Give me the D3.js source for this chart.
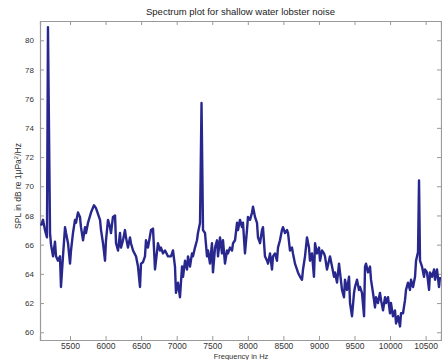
<!DOCTYPE html>
<html>
<head>
<meta charset="utf-8">
<script src="https://cdn.jsdelivr.net/npm/d3@7"></script>
<style>
  html, body { margin: 0; padding: 0; background: #fff; }
  svg { display: block; font-family: "Liberation Sans", Arial, Helvetica, sans-serif; }
</style>
</head>
<body>
<svg id="chart" width="442" height="360"></svg>
<script>
const titleText = "Spectrum plot for shallow water lobster noise";
const xLabelText = "Frequency in Hz";
const xTicks = [5500, 6000, 6500, 7000, 7500, 8000, 8500, 9000, 9500, 10000, 10500];
const yTicks = [60, 62, 64, 66, 68, 70, 72, 74, 76, 78, 80];

const freq = [5092,5120,5148,5176,5190,5219,5233,5261,5289,5303,5331,5359,5373,5401,5430,5444,5472,5500,5514,5542,
5570,5584,5612,5640,5654,5683,5711,5725,5753,5795,5837,5865,5922,5936,5964,5992,6006,6034,6062,6076,
6104,6133,6147,6175,6203,6217,6245,6273,6287,6315,6343,6357,6386,6428,6456,6484,6498,6526,6554,6568,
6596,6639,6667,6695,6709,6737,6765,6779,6807,6836,6878,6920,6948,6976,6990,7018,7046,7075,7089,7117,
7145,7159,7187,7215,7229,7257,7285,7299,7328,7349,7370,7398,7426,7440,7468,7496,7510,7539,7567,7581,
7609,7637,7651,7679,7707,7721,7749,7778,7792,7820,7848,7862,7890,7918,7932,7960,7988,8002,8031,8059,
8073,8101,8129,8143,8171,8199,8213,8241,8270,8284,8312,8340,8354,8382,8410,8424,8452,8480,8494,8523,
8551,8565,8593,8621,8635,8663,8691,8705,8734,8762,8776,8804,8832,8860,8874,8902,8930,8945,8973,9001,
9015,9043,9071,9085,9113,9141,9155,9184,9212,9226,9254,9282,9296,9324,9352,9366,9394,9423,9437,9465,
9493,9507,9535,9563,9577,9605,9634,9648,9662,9690,9718,9732,9760,9788,9802,9830,9858,9873,9901,9929,
9943,9971,9999,10013,10041,10069,10084,10112,10140,10154,10182,10210,10224,10252,10280,10295,10323,10351,10365,10393,
10407,10421,10449,10477,10491,10519,10548,10562,10590,10618,10632,10660,10688,10702];

const spl = [67.3,67.7,67.0,66.5,80.9,66.8,66.0,65.2,66.2,65.2,64.9,65.2,63.1,65.2,67.2,66.8,66.1,64.7,65.6,66.8,
67.7,67.5,68.2,67.9,67.2,66.3,67.2,66.8,67.5,68.2,68.7,68.5,67.7,67.0,66.1,64.9,66.3,67.7,67.2,66.8,
67.9,68.0,66.1,65.6,66.8,65.8,66.3,67.0,66.5,65.8,66.5,66.1,65.6,65.2,64.5,63.1,64.7,64.8,65.2,66.3,
65.8,67.0,67.1,64.3,64.9,66.1,65.6,65.8,65.4,65.6,65.2,65.2,65.6,64.5,62.7,63.4,62.4,64.5,63.8,64.9,
64.3,65.2,64.5,65.4,65.2,65.8,66.3,66.8,67.5,75.7,67.0,66.8,65.2,65.6,64.7,66.1,64.1,65.8,66.3,65.2,
66.5,65.4,66.3,64.7,65.6,65.4,65.8,65.6,66.1,66.3,67.5,67.0,67.7,67.2,67.5,65.4,67.0,67.9,67.7,68.2,
68.6,67.9,67.5,66.5,66.1,67.0,67.2,65.2,64.9,64.7,65.4,64.3,65.2,65.4,64.9,65.8,66.3,67.0,67.2,66.8,
67.0,66.8,65.6,65.8,65.4,64.7,64.3,64.1,63.8,63.6,64.3,65.2,66.5,65.8,64.9,65.4,63.8,66.1,65.4,65.8,
64.9,65.6,65.4,65.2,64.3,64.9,65.2,64.5,63.8,64.1,63.4,64.7,64.1,62.9,62.4,63.6,62.9,63.8,62.0,61.1,
62.7,63.1,63.6,62.9,63.1,62.7,61.1,64.5,64.7,64.1,64.5,63.6,62.7,61.7,62.4,62.0,62.7,62.2,61.5,62.4,
62.0,62.4,61.3,62.0,61.1,61.5,60.6,61.1,60.4,61.3,61.3,62.2,62.9,63.4,62.9,63.6,63.1,63.8,64.9,65.5,
70.4,64.9,64.5,63.8,64.3,64.1,62.9,64.1,63.8,64.3,63.6,64.3,63.1,63.8];

const svg = d3.select("#chart");
const L = 40, R = 441, T = 21, B = 340;

const x = d3.scaleLinear().domain([5078, 10716]).range([L, R]);
const y = d3.scaleLinear().domain([59.47, 81.32]).range([B, T]);

svg.append("rect").attr("x", 0).attr("y", 0).attr("width", 442).attr("height", 360).attr("fill", "#fff");

svg.append("defs").append("clipPath").attr("id", "clip")
  .append("rect").attr("x", L).attr("y", T).attr("width", R - L).attr("height", B - T);

const axisColor = "#9a9a9a";
const textColor = "#333";

const gx = svg.append("g").attr("transform", `translate(0,${B})`)
  .call(d3.axisBottom(x).tickValues(xTicks).tickSize(-4).tickPadding(3).tickFormat(d3.format("d")));
const gxt = svg.append("g").attr("transform", `translate(0,${T})`)
  .call(d3.axisTop(x).tickValues(xTicks).tickSize(-4).tickFormat(""));
const gy = svg.append("g").attr("transform", `translate(${L},0)`)
  .call(d3.axisLeft(y).tickValues(yTicks).tickSize(-4).tickPadding(6).tickFormat(d3.format("d")));
const gyr = svg.append("g").attr("transform", `translate(${R},0)`)
  .call(d3.axisRight(y).tickValues(yTicks).tickSize(-4).tickFormat(""));

[gx, gxt, gy, gyr].forEach(g => {
  g.select(".domain").attr("stroke", axisColor).attr("stroke-width", 1.2);
  g.selectAll(".tick line").attr("stroke", axisColor);
  g.selectAll(".tick text").attr("fill", textColor).attr("font-family", "'Liberation Sans', Arial, sans-serif");
});
gx.selectAll(".tick text").attr("font-size", 8.5);
gy.selectAll(".tick text").attr("font-size", 8);

const data = freq.map((f, i) => [f, spl[i]]);
const line = d3.line().x(d => x(d[0])).y(d => y(d[1]));
svg.append("path")
  .datum(data)
  .attr("clip-path", "url(#clip)")
  .attr("fill", "none")
  .attr("stroke", "#27278e")
  .attr("stroke-width", 2.4)
  .attr("stroke-linejoin", "round")
  .attr("d", line);

svg.append("text")
  .attr("x", (L + R) / 2).attr("y", 15)
  .attr("text-anchor", "middle")
  .attr("font-size", 9.5)
  .attr("fill", "#222")
  .text(titleText);

svg.append("text")
  .attr("x", 241).attr("y", 358.5)
  .attr("text-anchor", "middle")
  .attr("font-size", 7.5)
  .attr("fill", textColor)
  .text(xLabelText);

const yl = svg.append("text")
  .attr("transform", `translate(21,${186}) rotate(-90)`)
  .attr("text-anchor", "middle")
  .attr("font-size", 8.5)
  .attr("fill", textColor);
yl.append("tspan").text("SPL in dB re 1\u03bcPa");
yl.append("tspan").attr("font-size", 6).attr("dy", -3).text("2");
yl.append("tspan").attr("dy", 3).text("/Hz");
</script>
</body>
</html>
